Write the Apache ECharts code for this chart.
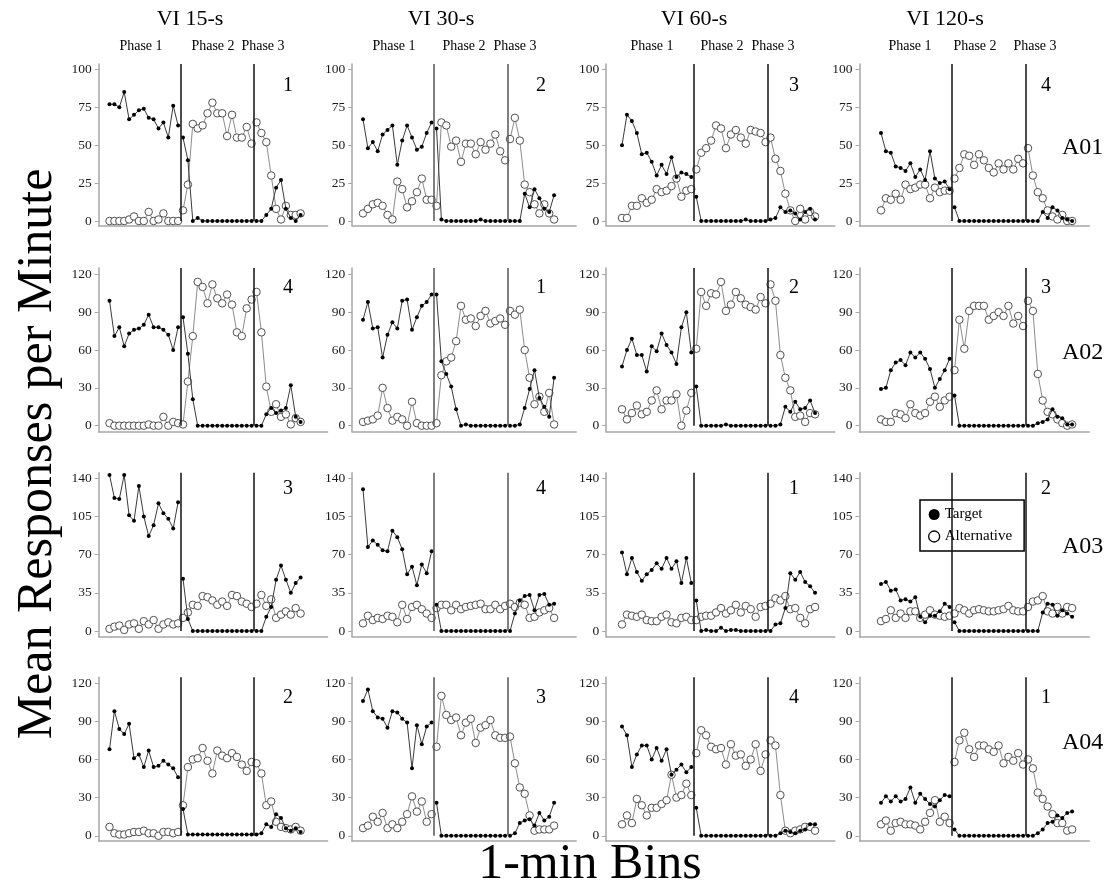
<!DOCTYPE html>
<html><head><meta charset="utf-8">
<script src="https://cdn.jsdelivr.net/npm/echarts@6/dist/echarts.min.js"></script>
<style>html,body{margin:0;padding:0;background:#fff}#c{width:1117px;height:886px}</style>
</head><body><div id="c"></div><script>
// ---------- labels ----------
const conditions = ['VI 15-s', 'VI 30-s', 'VI 60-s', 'VI 120-s'];
const subjects = ['A01', 'A02', 'A03', 'A04'];
const phaseNames = ['Phase 1', 'Phase 2', 'Phase 3'];
const phaseLengths = [15, 15, 10];
const orderLabels = [[1, 2, 3, 4], [4, 1, 2, 3], [3, 4, 1, 2], [2, 3, 4, 1]];
const yTicksA01 = [0, 25, 50, 75, 100];
const yTicksA02 = [0, 30, 60, 90, 120];
const yTicksA03 = [0, 35, 70, 105, 140];
const yTicksA04 = [0, 30, 60, 90, 120];

// ---------- data (responses per minute, 1-min bins) ----------
const A01_VI15_target = [77,77,75,85,67,70,73,74,68,67,61,65,55,76,63, 55,40,0,2,0,0,0,0,0,0,0,0,0,0,0, 0,0,4,8,22,27,8,2,0,4];
const A01_VI15_alt    = [0,0,0,0,1,3,0,0,6,0,1,5,0,0,0, 7,24,64,61,63,71,78,71,71,56,70,55,55,62,51, 65,58,52,30,8,1,10,4,4,5];
const A01_VI30_target = [67,48,52,46,57,60,63,37,53,63,55,47,49,58,65, 61,1,0,0,0,0,0,0,0,1,0,0,0,0,0, 0,0,0,18,9,21,15,8,6,17];
const A01_VI30_alt    = [5,8,11,12,10,4,1,26,21,9,13,19,28,14,14, 10,65,63,49,53,39,51,51,44,52,47,51,57,46,40, 54,68,53,24,19,11,5,11,5,1];
const A01_VI60_target = [50,70,66,58,44,45,39,30,37,31,42,29,32,31,29, 16,0,0,0,0,0,0,0,0,0,1,0,0,0,0, 1,2,9,6,7,5,1,6,8,1];
const A01_VI60_alt    = [2,2,10,10,15,12,14,21,19,20,23,28,16,20,21, 34,45,48,53,63,61,48,57,60,55,51,60,59,58,52, 55,41,33,18,7,0,8,1,6,3];
const A01_VI120_target = [58,46,45,36,35,33,38,29,34,27,46,28,25,26,21, 9,0,0,0,0,0,0,0,0,0,0,0,0,0,0, 0,0,0,6,2,9,7,2,1,0];
const A01_VI120_alt    = [7,15,14,18,14,24,21,22,24,24,15,22,19,20,20, 28,35,44,43,37,44,40,35,32,38,34,38,34,41,38, 48,30,19,15,7,3,1,4,0,0];

const A02_VI15_target = [99,71,78,63,73,76,77,80,88,78,78,76,72,60,78, 86,57,21,0,0,0,0,0,0,0,0,0,0,0,0, 0,0,9,14,10,12,14,32,7,3];
const A02_VI15_alt    = [2,0,0,0,0,0,0,0,1,0,0,7,0,3,2, 1,35,71,114,110,97,112,101,97,104,96,74,71,93,100, 106,74,31,11,17,7,9,1,6,3];
const A02_VI30_target = [84,98,77,78,54,72,82,77,99,100,76,86,95,98,104, 104,51,41,31,13,0,1,0,0,0,0,0,0,0,0, 0,0,1,14,29,44,22,15,7,38];
const A02_VI30_alt    = [3,4,5,8,30,14,4,7,5,0,19,2,0,0,0, 2,40,51,54,67,95,84,85,79,87,91,81,83,85,80, 91,88,92,60,38,17,23,11,26,1];
const A02_VI60_target = [47,60,69,56,56,43,63,59,73,64,58,49,78,90,58, 31,0,0,0,0,0,1,0,0,0,0,0,0,0,0, 0,0,1,15,11,19,13,14,20,10];
const A02_VI60_alt    = [13,5,10,16,9,11,20,28,13,20,20,25,0,12,26, 61,106,95,105,104,114,91,96,106,101,96,94,92,102,97, 112,99,56,38,28,7,8,3,10,9];
const A02_VI120_target = [29,30,44,50,52,48,58,54,58,53,45,30,37,44,53, 24,0,0,0,0,0,0,0,0,0,0,0,0,0,0, 0,0,2,3,5,13,7,6,1,1];
const A02_VI120_alt    = [5,3,3,10,9,6,17,10,8,10,19,23,15,20,23, 44,84,61,91,95,95,95,84,87,90,87,95,81,87,79, 99,91,41,20,11,9,5,2,0,1];

const A03_VI15_target = [143,122,121,143,106,101,133,105,87,97,117,108,103,94,118, 48,11,0,0,0,0,0,0,0,0,0,0,0,0,0, 0,0,13,22,47,60,47,35,44,49];
const A03_VI15_alt    = [2,4,5,1,6,7,2,9,6,10,2,6,8,6,7, 12,17,24,23,32,31,28,24,27,23,33,32,27,25,22, 25,33,23,29,12,15,18,15,21,16];
const A03_VI30_target = [130,77,83,79,74,73,92,86,75,52,59,42,61,53,73, 24,0,0,0,0,0,0,0,0,0,0,0,0,0,0, 0,16,28,32,33,19,33,34,24,25];
const A03_VI30_alt    = [7,14,10,12,11,14,13,8,24,11,22,24,20,16,12, 21,24,24,19,24,20,22,23,24,25,20,20,24,20,23, 25,22,26,24,12,13,17,19,21,12];
const A03_VI60_target = [72,52,67,54,46,52,56,62,57,67,57,64,44,67,44, 28,0,1,0,0,3,0,1,1,0,0,0,0,0,0, 0,6,7,21,53,47,54,45,41,35];
const A03_VI60_alt    = [6,15,14,13,15,10,9,9,13,15,8,7,12,13,10, 10,13,14,14,17,21,16,19,24,17,23,20,13,22,23, 25,30,28,32,20,21,12,7,20,22];
const A03_VI120_target = [43,45,37,38,28,29,27,31,13,8,14,14,18,25,22, 8,0,0,0,0,0,0,0,0,0,0,0,0,0,0, 0,0,0,17,25,24,14,19,16,13];
const A03_VI120_alt    = [9,11,19,12,16,12,18,18,12,15,19,15,14,13,14, 16,21,19,16,19,20,19,18,18,19,20,23,19,18,18, 22,27,28,32,18,16,22,16,22,21];

const A04_VI15_target = [68,98,84,80,88,61,64,54,67,54,55,59,56,53,46, 21,1,1,1,1,1,1,1,1,1,1,1,1,1,1, 1,2,9,7,17,14,6,4,6,3];
const A04_VI15_alt    = [7,2,1,1,2,3,3,4,2,2,0,3,3,2,3, 24,54,60,61,69,59,49,67,63,61,65,62,56,51,58, 57,49,24,27,11,7,6,5,7,4];
const A04_VI30_target = [106,115,98,93,92,85,98,97,92,89,53,87,72,86,89, 26,0,0,0,0,0,0,0,0,0,0,0,0,0,0, 0,2,10,12,13,8,18,12,15,26];
const A04_VI30_alt    = [6,8,15,11,18,6,9,6,11,17,31,19,27,11,17, 70,110,95,91,93,79,89,92,73,85,87,91,79,77,77, 78,57,38,33,16,4,5,5,5,8];
const A04_VI60_target = [86,79,54,64,71,71,60,69,59,68,48,52,56,50,54, 22,0,0,0,0,0,0,0,0,0,0,0,0,0,0, 0,0,2,4,3,2,4,5,9,9];
const A04_VI60_alt    = [9,16,10,29,24,16,22,22,25,28,48,30,32,41,32, 65,83,79,70,68,69,56,72,63,64,55,60,72,51,64, 75,71,32,4,2,4,5,7,7,4];
const A04_VI120_target = [26,31,27,31,27,29,38,26,33,29,25,23,28,32,31, 5,0,0,0,0,0,0,0,0,0,0,0,0,0,0, 0,0,2,5,10,11,16,14,18,19];
const A04_VI120_alt    = [9,12,4,10,11,9,9,8,5,11,18,28,11,15,10, 58,75,81,68,62,71,71,68,66,71,57,62,59,65,56, 60,53,34,29,23,17,10,10,4,5];

// ---------- tables built from the arrays ----------
const targetTable = [
  [A01_VI15_target, A01_VI30_target, A01_VI60_target, A01_VI120_target],
  [A02_VI15_target, A02_VI30_target, A02_VI60_target, A02_VI120_target],
  [A03_VI15_target, A03_VI30_target, A03_VI60_target, A03_VI120_target],
  [A04_VI15_target, A04_VI30_target, A04_VI60_target, A04_VI120_target]
];
const altTable = [
  [A01_VI15_alt, A01_VI30_alt, A01_VI60_alt, A01_VI120_alt],
  [A02_VI15_alt, A02_VI30_alt, A02_VI60_alt, A02_VI120_alt],
  [A03_VI15_alt, A03_VI30_alt, A03_VI60_alt, A03_VI120_alt],
  [A04_VI15_alt, A04_VI30_alt, A04_VI60_alt, A04_VI120_alt]
];
const yTickTable = [yTicksA01, yTicksA02, yTicksA03, yTicksA04];

// ---------- layout (pixels) ----------
const colLayout = [
  {idx0: 109.5, step: 4.9, xmin: -2.2, xmax: 44.5, phaseColor: '#111', titleX: 190, phaseX: [141, 213, 263], numX: 288},
  {idx0: 363, step: 4.9, xmin: -2.2, xmax: 43.5, phaseColor: '#555', titleX: 441, phaseX: [394, 464, 515], numX: 541},
  {idx0: 622, step: 4.95, xmin: -3.2, xmax: 43, phaseColor: '#111', titleX: 694, phaseX: [652, 722, 773], numX: 794},
  {idx0: 881, step: 4.9, xmin: -4.4, xmax: 42.5, phaseColor: '#111', titleX: 945, phaseX: [910, 975, 1035], numX: 1046}
];
const rowLayout = [
  {top: 64, height: 161.7, ymin: -3.1, ymax: 103.5, numY: 86},
  {top: 268, height: 163.7, ymin: -4.76, ymax: 125, numY: 288},
  {top: 472.7, height: 164, ymin: -5.23, ymax: 145.1, numY: 489},
  {top: 677.3, height: 163.7, ymin: -4.1, ymax: 124.6, numY: 698}
];
const SERIF = '"Liberation Serif", "Times New Roman", serif';

const grids = [], xAxes = [], yAxes = [], series = [], graphics = [];
const phaseStarts = [];
{ let s = 0; for (const L of phaseLengths) { phaseStarts.push(s); s += L; } }
const boundaries = phaseStarts.slice(1).map(s => s - 0.5);

for (let r = 0; r < 4; r++) {
  for (let c = 0; c < 4; c++) {
    const g = r * 4 + c;
    const cl = colLayout[c], rl = rowLayout[r];
    grids.push({left: cl.idx0 + cl.xmin * cl.step, width: (cl.xmax - cl.xmin) * cl.step, top: rl.top, height: rl.height});
    xAxes.push({
      type: 'value', gridIndex: g, min: cl.xmin, max: cl.xmax,
      axisLine: {show: true, onZero: false, lineStyle: {color: '#a6a6a6', width: 1.5}},
      axisTick: {show: false}, axisLabel: {show: false}, splitLine: {show: false}
    });
    yAxes.push({
      type: 'value', gridIndex: g, min: rl.ymin, max: rl.ymax,
      axisLine: {show: true, onZero: false, lineStyle: {color: '#a6a6a6', width: 1.5}},
      axisTick: {show: true, length: 4, customValues: yTickTable[r], lineStyle: {color: '#a6a6a6', width: 1}},
      axisLabel: {show: true, customValues: yTickTable[r], fontFamily: SERIF, fontSize: 13.5, color: '#1a1a1a', margin: 7},
      splitLine: {show: false}
    });
    const tgt = targetTable[r][c], alt = altTable[r][c];
    phaseLengths.forEach((L, k) => {
      const s = phaseStarts[k];
      const altSeries = {
        type: 'line', name: 'Alternative', xAxisIndex: g, yAxisIndex: g, z: 2,
        data: alt.slice(s, s + L).map((v, j) => [s + j, v]),
        symbol: 'circle', symbolSize: 7.5, showSymbol: true,
        itemStyle: {color: '#fff', borderColor: '#505050', borderWidth: 1},
        lineStyle: {color: '#8c8c8c', width: 1},
        silent: true
      };
      if (k === 0) {
        altSeries.markLine = {
          silent: true, symbol: 'none', label: {show: false},
          lineStyle: {color: cl.phaseColor, width: 1.5, type: 'solid'},
          data: boundaries.map(b => [{coord: [b, 0]}, {coord: [b, rl.ymax]}])
        };
      }
      series.push(altSeries);
      series.push({
        type: 'line', name: 'Target', xAxisIndex: g, yAxisIndex: g, z: 3,
        data: tgt.slice(s, s + L).map((v, j) => [s + j, v]),
        symbol: 'circle', symbolSize: 4, showSymbol: true,
        itemStyle: {color: '#000'},
        lineStyle: {color: '#3a3a3a', width: 1},
        silent: true
      });
    });
    graphics.push({type: 'text', x: cl.numX, y: rl.numY,
      style: {text: String(orderLabels[r][c]), fontFamily: SERIF, fontSize: 20, fill: '#000', textAlign: 'center', textVerticalAlign: 'middle'}});
  }
}
for (let c = 0; c < 4; c++) {
  const cl = colLayout[c];
  graphics.push({type: 'text', x: cl.titleX, y: 19,
    style: {text: conditions[c], fontFamily: SERIF, fontSize: 22, fill: '#000', textAlign: 'center', textVerticalAlign: 'middle'}});
  phaseNames.forEach((p, k) => {
    graphics.push({type: 'text', x: cl.phaseX[k], y: 46,
      style: {text: p, fontFamily: SERIF, fontSize: 14, fill: '#000', textAlign: 'center', textVerticalAlign: 'middle'}});
  });
}
const rowLabelY = [148, 353, 547, 743];
subjects.forEach((s, r) => {
  graphics.push({type: 'text', x: 1062, y: rowLabelY[r],
    style: {text: s, fontFamily: SERIF, fontSize: 24, fill: '#000', textAlign: 'left', textVerticalAlign: 'middle'}});
});
graphics.push({type: 'text', x: 38, y: 454, rotation: Math.PI / 2,
  style: {text: 'Mean Responses per Minute', fontFamily: SERIF, fontSize: 50, fill: '#000', textAlign: 'center', textVerticalAlign: 'middle'}});
graphics.push({type: 'text', x: 590, y: 865,
  style: {text: '1-min Bins', fontFamily: SERIF, fontSize: 50, fill: '#000', textAlign: 'center', textVerticalAlign: 'middle'}});

const chart = echarts.init(document.getElementById('c'), null, {renderer: 'canvas'});
chart.setOption({
  animation: false,
  backgroundColor: '#fff',
  grid: grids, xAxis: xAxes, yAxis: yAxes, series: series,
  legend: {
    orient: 'vertical', left: 920, top: 500, selectedMode: false,
    padding: [7, 12, 7, 8], itemGap: 7, itemWidth: 11, itemHeight: 11,
    borderColor: '#000', borderWidth: 1.5, backgroundColor: '#fff',
    textStyle: {fontFamily: SERIF, fontSize: 15, color: '#000'},
    data: [
      {name: 'Target', icon: 'circle', itemStyle: {color: '#000', borderWidth: 0}},
      {name: 'Alternative', icon: 'circle', itemStyle: {color: '#fff', borderColor: '#000', borderWidth: 1.3}}
    ]
  },
  graphic: graphics
});
</script></body></html>
